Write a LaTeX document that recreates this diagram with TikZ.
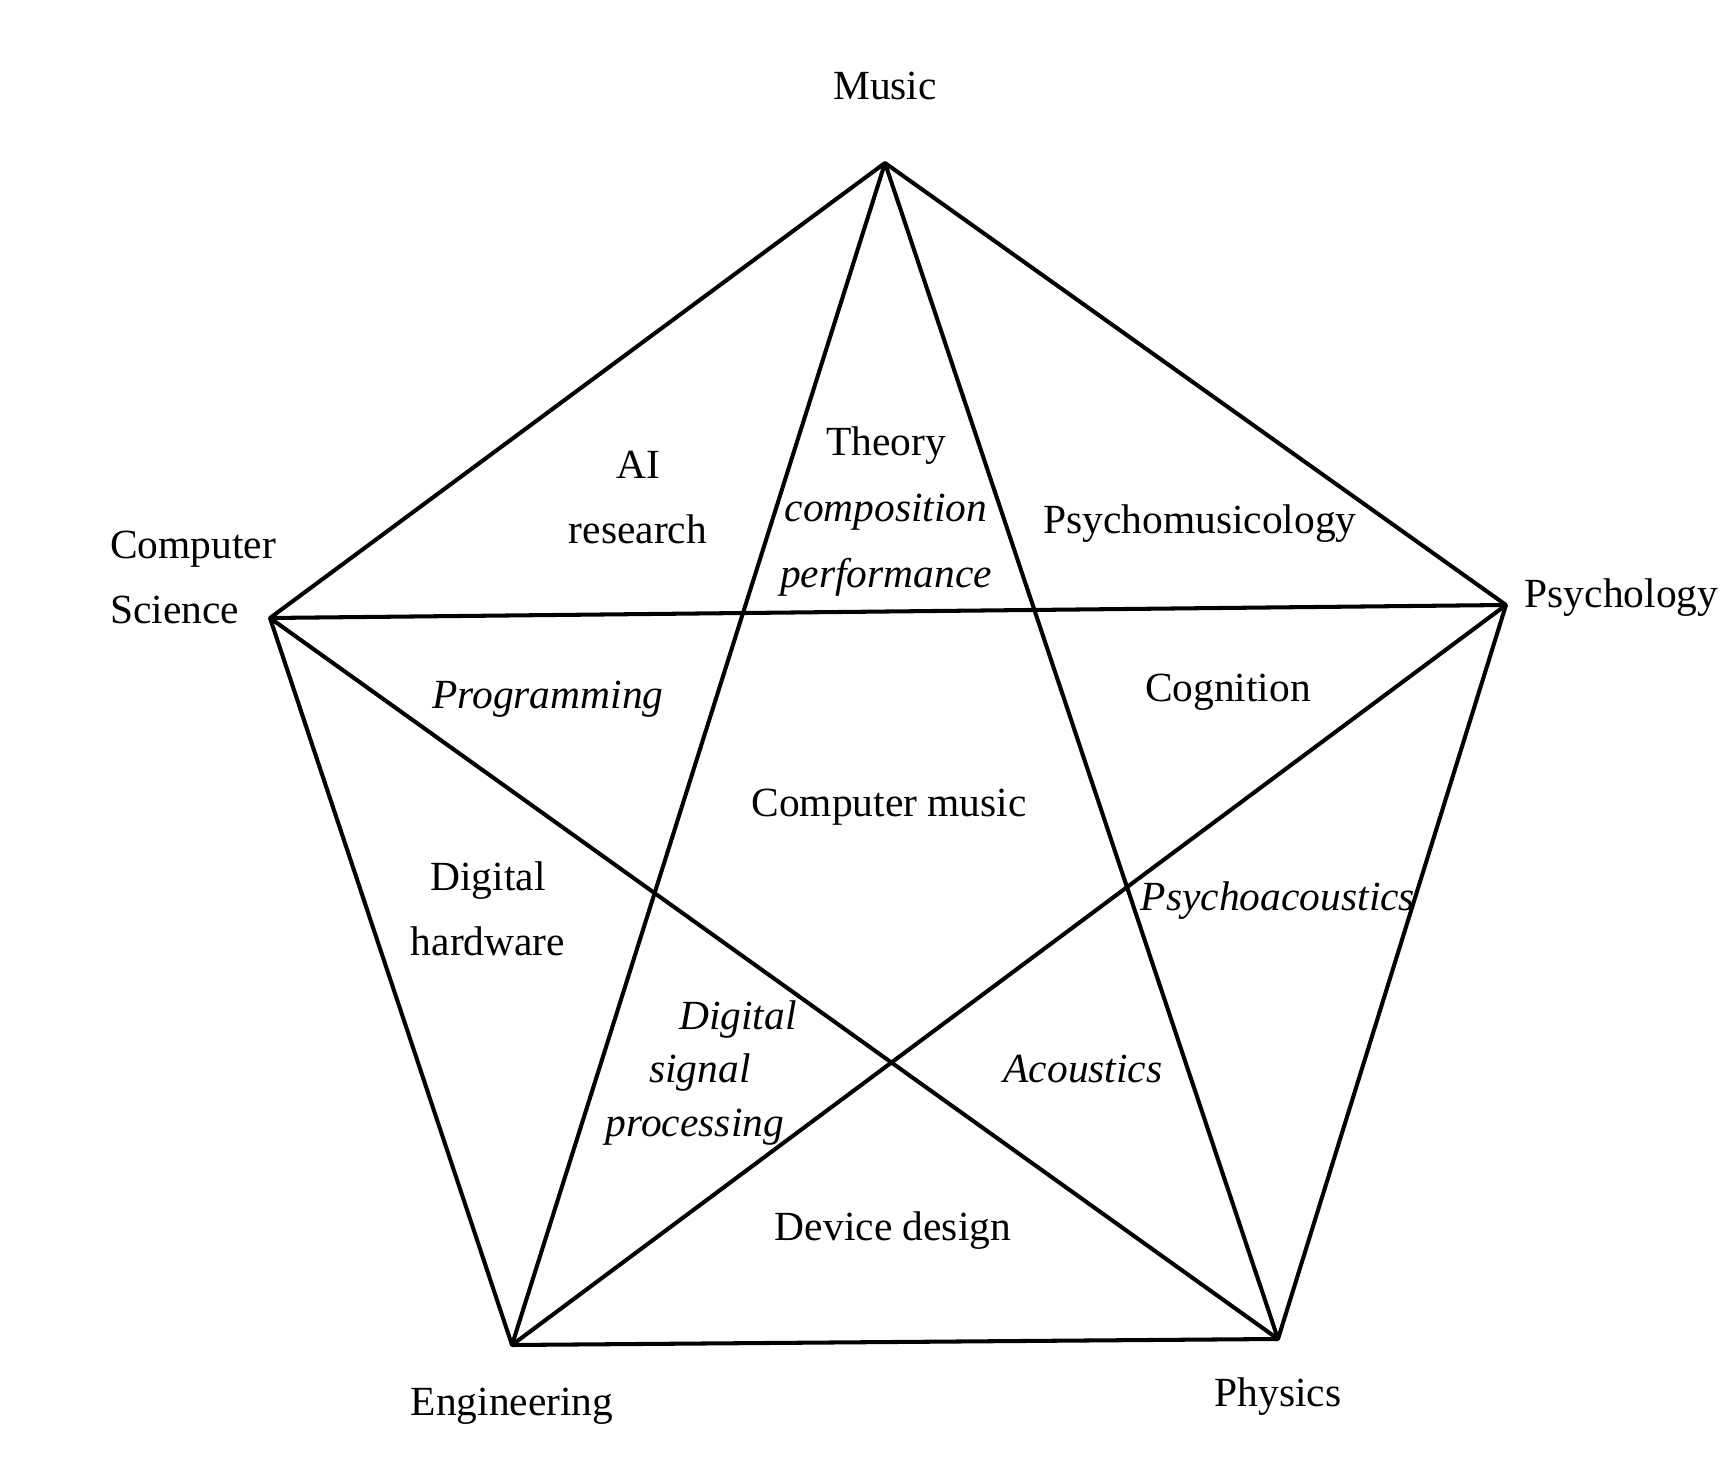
\documentclass[tikz,border=0pt]{standalone}
\usepackage{fontspec}
\setmainfont{Liberation Serif}
\usepackage{tikz}
\usetikzlibrary{positioning}

\begin{document}
\begin{tikzpicture}[x=0.1mm,y=-0.1mm,line join=round]
  \tikzstyle{lbl}=[inner sep=1pt,align=center,yshift=-0.4mm,
    font=\fontsize{11.8}{18.5}\selectfont]
  \tikzstyle{sub}=[lbl,font=\fontsize{11.8}{18.5}\selectfont\itshape]
  \tikzstyle{edge}=[line width=1.15pt,black]
  \useasboundingbox (0,0) rectangle (1724,1460);
  % corners of the pentagon
  \coordinate (mu) at (885,163);
  \coordinate (ps) at (1506,605);
  \coordinate (ph) at (1278,1339);
  \coordinate (en) at (512,1345);
  \coordinate (cs) at (270,618);
  % discipline names
  \node[lbl] (music) at (885,82) {Music};
  \node[lbl,align=left,anchor=west] (compsci) at (106,573) {Computer\\Science};
  \node[lbl,anchor=west,inner sep=0pt] (psych) at (1524,594) {Psychology};
  \node[lbl] (phys) at (1278,1393) {Physics};
  \node[lbl] (eng) at (512,1402) {Engineering};
  % outline and star
  \draw[edge] (mu)--(ps)--(ph)--(en)--(cs)--cycle;
  \draw[edge] (mu)--(en) (mu)--(ph);
  \draw[edge] (cs)--(ps) (cs)--(ph);
  \draw[edge] (ps)--(en);
  % fields inside
  \node[lbl] (ai) at (638,494) {AI\\research};
  \node[lbl] (theory) at (886,442) {Theory};
  \node[sub] (compo) at (886,508) {composition};
  \node[sub] (perf) at (886,573) {performance};
  \node[lbl] (psymus) at (1200,520) {Psychomusicology};
  \node[sub] (prog) at (548,695) {Programming};
  \node[lbl] (cogn) at (1228,688) {Cognition};
  \node[lbl] (cmusic) at (889,803) {Computer music};
  \node[lbl] (hw) at (488,905) {Digital\\hardware};
  \node[sub] (psyac) at (1278,897) {Psychoacoustics};
  \node[sub] (dsp1) at (738,1016) {Digital};
  \node[sub] (dsp2) at (700,1069) {signal};
  \node[sub] (dsp3) at (695,1123) {processing};
  \node[sub] (acou) at (1083,1065) {Acoustics};
  \node[lbl] (device) at (893,1227) {Device design};
\end{tikzpicture}
\end{document}
